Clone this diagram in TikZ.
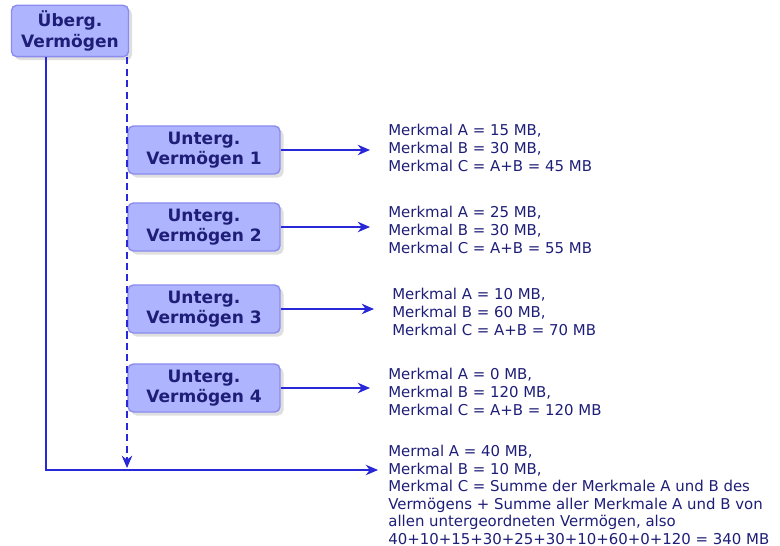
\documentclass[tikz,border=0pt]{standalone}
\usepackage{fontspec}
\setmainfont{DejaVu Sans}
\usetikzlibrary{arrows.meta, shadows}

\definecolor{boxfill}{RGB}{174,180,253}
\definecolor{boxline}{RGB}{140,140,240}
\definecolor{inkblue}{RGB}{30,30,120}
\definecolor{wireblue}{RGB}{40,40,216}

\tikzset{
  assetbox/.style={rectangle, rounded corners=3pt, draw=boxline, line width=0.8pt,
    fill=boxfill, text=inkblue, font=\bfseries\fontsize{9.7}{11.5}\selectfont,
    align=center, minimum height=0.88cm,
    drop shadow={opacity=0.25, shadow xshift=2pt, shadow yshift=-2pt}},
  infotext/.style={text=inkblue, font=\fontsize{8.5}{10}\selectfont, align=left, inner sep=0pt},
  wire/.style={draw=wireblue, line width=0.8pt},
  tip/.style={-{Stealth[length=7pt,width=6pt]}}
}

\begin{document}
\begin{tikzpicture}[x=0.02cm, y=-0.02cm]
            \useasboundingbox (0,0) rectangle (780,546);
            \node[assetbox, minimum width=2.34cm] (ueber) at (70,31) {Überg.\\Vermögen};
            \foreach \n/\y in {1/150, 2/227, 3/309, 4/388}{
                \node[assetbox, minimum width=3.04cm] (u\n) at (204,\y) {Unterg.\\Vermögen \n};
            }
            \node[infotext, anchor=west] (m1) at (388,148) {Merkmal A = 15 MB,\\Merkmal B = 30 MB,\\Merkmal C = A+B = 45 MB};
            \node[infotext, anchor=west] (m2) at (388,230) {Merkmal A = 25 MB,\\Merkmal B = 30 MB,\\Merkmal C = A+B = 55 MB};
            \node[infotext, anchor=west] (m3) at (392,312) {Merkmal A = 10 MB,\\Merkmal B = 60 MB,\\Merkmal C = A+B = 70 MB};
            \node[infotext, anchor=west] (m4) at (388,392) {Merkmal A = 0 MB,\\Merkmal B = 120 MB,\\Merkmal C = A+B = 120 MB};
            \node[infotext, anchor=north west] (m5) at (388,445) {Mermal A = 40 MB,\\Merkmal B = 10 MB,\\Merkmal C = Summe der Merkmale A und B des\\Vermögens + Summe aller Merkmale A und B von\\allen untergeordneten Vermögen, also\\40+10+15+30+25+30+10+60+0+120 = 340 MB};
            \coordinate (corner) at (46,470);
            \coordinate (dashend) at (127,468);
            \foreach \n in {1,...,4}{
                \draw[wire, tip] (u\n.east) -- ([xshift=-0.36cm]m\n.west |- u\n.east);
            }
            \draw[wire, tip] (ueber.south -| corner) -- (corner) -- ([xshift=-0.2cm]m5.west |- corner);
            \draw[wire, dash pattern=on 4pt off 2.5pt, tip] (ueber.south east -| dashend) -- (dashend);
        \end{tikzpicture}
\end{document}
